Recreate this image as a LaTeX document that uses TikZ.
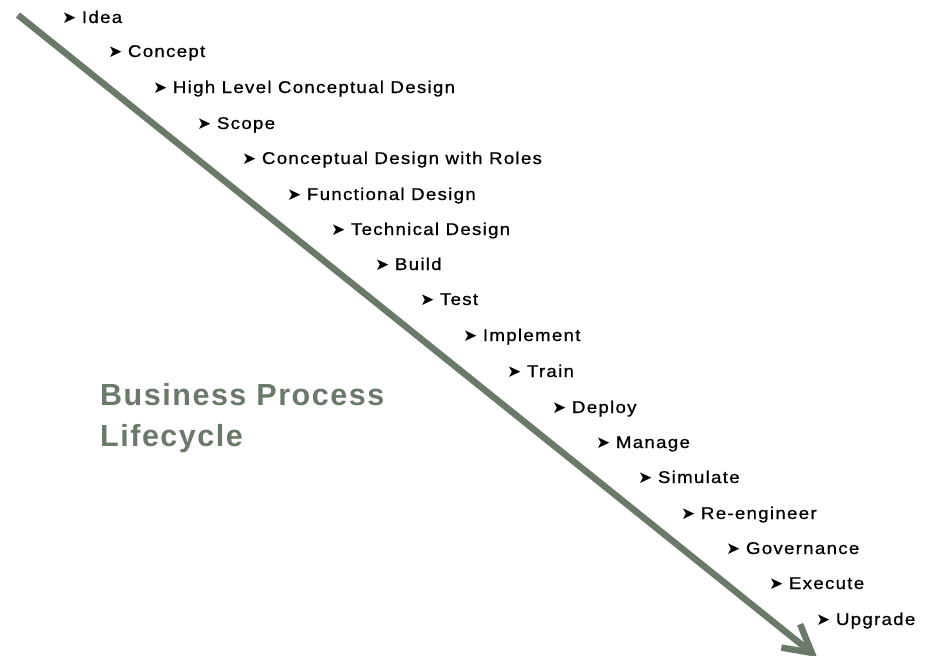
\documentclass[tikz,border=0pt]{standalone}
\usepackage{fontspec}
\usetikzlibrary{arrows.meta}
\newfontfamily\lblfont[FakeStretch=1.1, LetterSpace=7.5, FakeBold=0.8]{Liberation Sans}
\newfontfamily\ttlfont[LetterSpace=5]{Liberation Sans}
\newfontfamily\bulfont{DejaVu Sans}
\definecolor{lifegreen}{RGB}{106,121,106}
\newcommand{\itm}[1]{{\bulfont\fontsize{17pt}{17pt}\selectfont ➤}\hspace{5.5pt}#1}
\tikzstyle{stage}=[anchor=base west, inner sep=0pt, font=\lblfont\fontsize{17pt}{19pt}\selectfont]
\tikzstyle{heading}=[anchor=base west, inner sep=0pt, align=left, text=lifegreen,
  font=\ttlfont\fontsize{30.5pt}{41pt}\selectfont\bfseries]
\tikzstyle{flow}=[draw=lifegreen, line width=6.5pt,
  -{Straight Barb[length=27pt, width=30pt]}]

\begin{document}
\begin{tikzpicture}[x=1pt, y=-1pt]
      \useasboundingbox (0, 0) rectangle (930, 656);
      \clip (0, 0) rectangle (930, 656);

      \coordinate (start) at (18, 15);
      \coordinate (finish) at (817, 657);

      \node[stage] (idea) at (62, 23) {\itm{Idea}};
      \node[stage] (concept) at (108, 57) {\itm{Concept}};
      \node[stage] (hlcd) at (153, 93) {\itm{High Level Conceptual Design}};
      \node[stage] (scope) at (197, 129) {\itm{Scope}};
      \node[stage] (cdroles) at (242, 164) {\itm{Conceptual Design with Roles}};
      \node[stage] (functional) at (287, 200) {\itm{Functional Design}};
      \node[stage] (technical) at (331, 235) {\itm{Technical Design}};
      \node[stage] (build) at (375, 270) {\itm{Build}};
      \node[stage] (test) at (420, 305) {\itm{Test}};
      \node[stage] (implement) at (463, 341) {\itm{Implement}};
      \node[stage] (train) at (507, 377) {\itm{Train}};
      \node[stage] (deploy) at (552, 413) {\itm{Deploy}};
      \node[stage] (manage) at (596, 448) {\itm{Manage}};
      \node[stage] (simulate) at (638, 483) {\itm{Simulate}};
      \node[stage] (reengineer) at (681, 519) {\itm{Re-engineer}};
      \node[stage] (governance) at (726, 554) {\itm{Governance}};
      \node[stage] (execute) at (769, 589) {\itm{Execute}};
      \node[stage] (upgrade) at (816, 625) {\itm{Upgrade}};

      \node[heading] (title) at (100, 446) {Business Process\\Lifecycle};

      \draw[flow] (start) -- (finish);
    \end{tikzpicture}
\end{document}
